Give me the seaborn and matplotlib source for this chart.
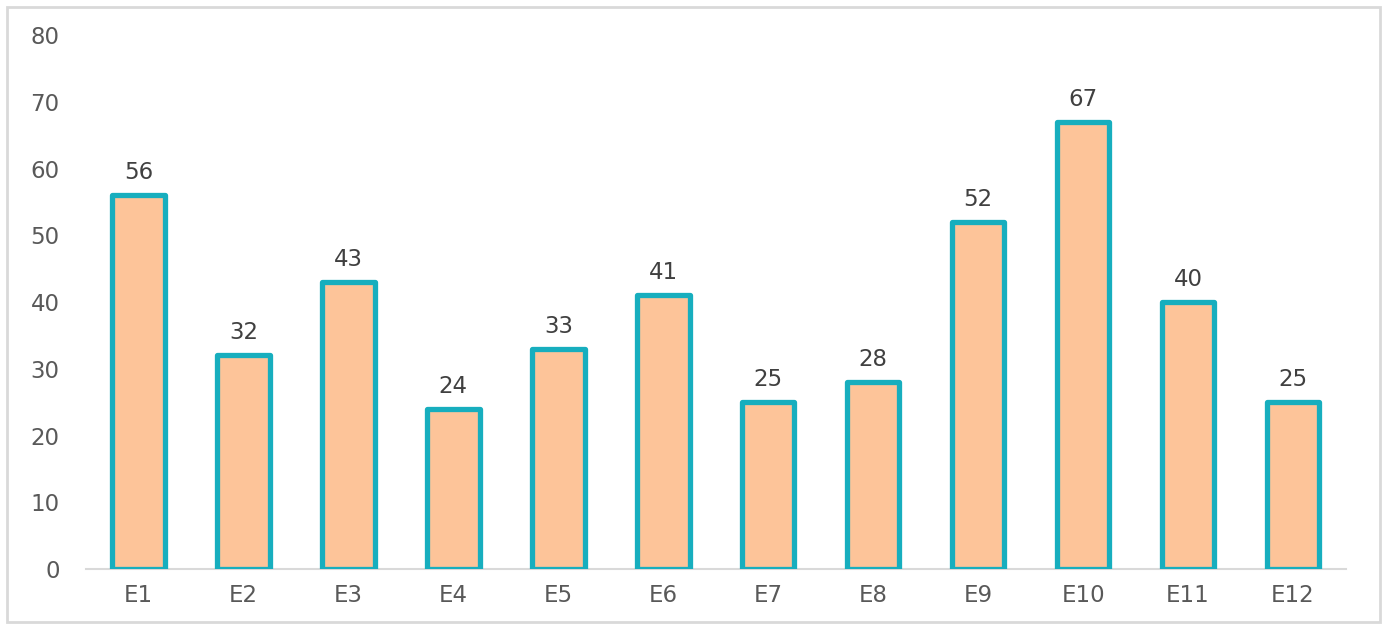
import matplotlib
matplotlib.use("Agg")
import matplotlib.pyplot as plt
import seaborn as sns
import pandas as pd
from matplotlib.patches import Rectangle

categories = ["E1", "E2", "E3", "E4", "E5", "E6", "E7", "E8", "E9", "E10", "E11", "E12"]
values = [56, 32, 43, 24, 33, 41, 25, 28, 52, 67, 40, 25]
yticks = [0, 10, 20, 30, 40, 50, 60, 70, 80]

sns.set_theme(style="white")
plt.rcParams['font.family'] = ['DejaVu Sans']

df = pd.DataFrame({"cat": categories, "val": values})

fig = plt.figure(figsize=(13.85, 6.24), dpi=100)
ax = fig.add_axes([0.0621, 0.0881, 0.9094, 0.8558])

sns.barplot(data=df, x="cat", y="val", ax=ax, color="#FDC499", width=0.5,
            edgecolor="#17AEBE", linewidth=3.8, saturation=1)
for p in ax.patches:
    p.set_joinstyle("round")

for i, v in enumerate(values):
    ax.annotate(str(v), (i, v), xytext=(0, 8), textcoords="offset points",
                ha="center", va="bottom", fontsize=16.5, color="#404040")

ax.set_ylim(0, 80)
ax.set_xlim(-0.5, len(categories) - 0.5)
ax.set_yticks(yticks)
ax.set_yticklabels([str(t) for t in yticks])
ax.set_xlabel("")
ax.set_ylabel("")
ax.tick_params(axis="both", length=0, labelsize=16.5, labelcolor="#595959")
ax.tick_params(axis="y", pad=19)
ax.tick_params(axis="x", pad=11)
for s in ["top", "right", "left"]:
    ax.spines[s].set_visible(False)
ax.spines["bottom"].set_color("#D9D9D9")
ax.spines["bottom"].set_linewidth(1.5)
ax.spines["bottom"].set_zorder(0)

fig.patches.append(Rectangle((7 / 1385, 2 / 624), 1373 / 1385, 615 / 624,
                             transform=fig.transFigure, fill=False,
                             edgecolor="#D9D9D9", linewidth=2))

fig.savefig("out.png", dpi=100)
